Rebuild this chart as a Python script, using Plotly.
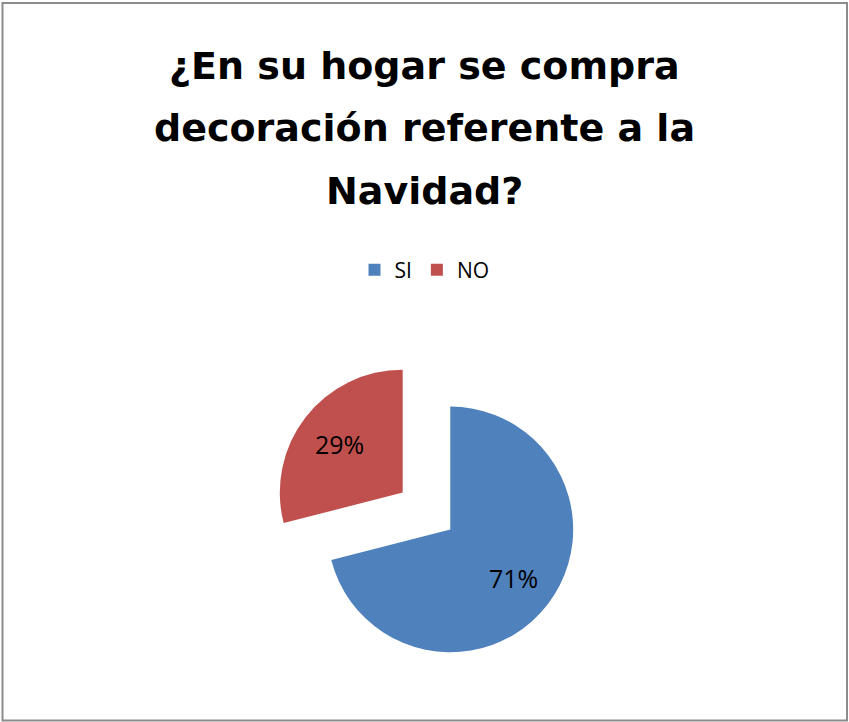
import math
import plotly.graph_objects as go

W, H = 849, 722

title_lines = ["¿En su hogar se compra", "decoración referente a la", "Navidad?"]
categories = ["SI", "NO"]
values = [71, 29]
colors = ["#4F81BD", "#C0504D"]
pulls = [0.245, 0.245]

def px_x(x):
    return x / W

def px_y(y):
    return 1 - y / H

# pie box in pixels
box_l, box_r, box_t, box_b = 273.5, 579.5, 358, 664

fig = go.Figure()
fig.add_trace(go.Pie(
    labels=categories,
    values=values,
    marker=dict(colors=colors, line=dict(width=0)),
    pull=pulls,
    sort=False,
    direction="clockwise",
    rotation=0,
    textinfo="none",
    domain=dict(x=[px_x(box_l), px_x(box_r)], y=[px_y(box_b), px_y(box_t)]),
    hoverinfo="label+percent",
))

# percentage labels placed along each slice's mid-angle
cx, cy = (box_l + box_r) / 2, (box_t + box_b) / 2
radius = (box_r - box_l) / (2 * (1 + max(pulls)))
total = sum(values)
start = 0.0
for v, p in zip(values, pulls):
    frac = v / total
    mid = (start + frac / 2) * 2 * math.pi
    dist = p * radius + 0.65 * radius
    lx = cx + dist * math.sin(mid)
    ly = cy - dist * math.cos(mid)
    fig.add_annotation(
        text=f"{round(frac * 100)}%", x=px_x(lx), y=px_y(ly), xref="paper", yref="paper",
        xanchor="center", yanchor="middle", showarrow=False,
        font=dict(family="Open Sans", size=25, color="#000000"),
    )
    start += frac

line_centers = [66, 128, 191]
for txt, yc in zip(title_lines, line_centers):
    fig.add_annotation(
        text=txt, x=0.5, y=px_y(yc), xref="paper", yref="paper",
        xanchor="center", yanchor="middle", showarrow=False,
        font=dict(family="DejaVu Sans", size=38, color="#000000", weight="bold"),
    )

fig.add_shape(type="rect", xref="paper", yref="paper",
              x0=px_x(2.5), x1=px_x(847), y0=px_y(720.5), y1=px_y(3),
              line=dict(color="#8c8c8c", width=2), fillcolor="rgba(0,0,0,0)")

fig.update_layout(
    width=W, height=H,
    margin=dict(l=0, r=0, t=0, b=0),
    paper_bgcolor="#ffffff",
    plot_bgcolor="#ffffff",
    showlegend=True,
    legend=dict(orientation="h", x=0.5, xanchor="center", y=px_y(270), yanchor="middle",
                font=dict(family="Open Sans", size=21, color="#000000"),
                itemclick=False),
)

fig.write_html("out.html")
